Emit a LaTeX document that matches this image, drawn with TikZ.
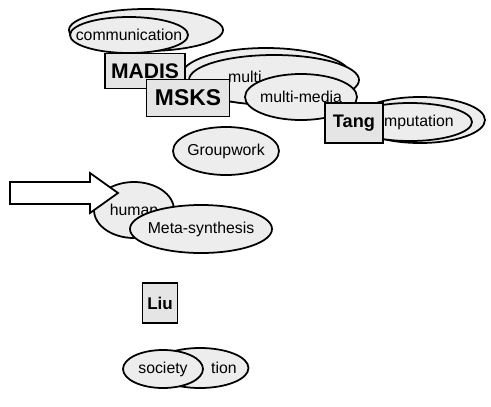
\documentclass[tikz,border=0pt]{standalone}
\usepackage{fontspec}
\setmainfont{Liberation Sans}
\usetikzlibrary{shapes.geometric}

\begin{document}
\begin{tikzpicture}[
    x=0.03cm, y=-0.03cm,
    % Estilos de nodos
    bubble/.style={ellipse, draw=black, line width=1.5pt, fill=black!7, inner sep=0pt},
    word/.style={font=\fontsize{13.5}{15}\selectfont},
    tag/.style={rectangle, draw=black, line width=1.2pt, fill=black!10, inner sep=0pt, font=\bfseries},
    pointer/.style={draw=black, line width=1.5pt, fill=white, line join=miter}
]
\useasboundingbox (0,0) rectangle (491,406);

% --- communication / MADIS ---
\node[bubble, minimum width=4.62cm, minimum height=1.26cm] (commback) at (146,30) {};
\node[bubble, minimum width=3.54cm, minimum height=1.08cm, label={[word]center:communication}] (comm) at (129,35) {};

% --- multi-functional ---
\node[bubble, minimum width=5.1cm, minimum height=1.68cm] (multiA) at (266,76) {};
\node[bubble, minimum width=5.1cm, minimum height=1.5cm] (multiB) at (274,80) {};
\node[word, anchor=west, inner sep=0pt] (multiword) at (228,77) {multi};

\node[tag, minimum width=2.4cm, minimum height=1.05cm, font=\fontsize{18}{20}\selectfont\bfseries] (madis) at (145,71) {MADIS};
\node[tag, minimum width=2.49cm, minimum height=1.1cm, font=\fontsize{19.5}{21}\selectfont\bfseries] (msks) at (188,98) {MSKS};

% --- multi-media ---
\node[bubble, minimum width=3.36cm, minimum height=1.38cm, label={[word]center:multi-media}] (media) at (301,97) {};

% --- computation / Tang ---
\node[bubble, minimum width=3.9cm, minimum height=1.38cm] (compback) at (420,120) {};
\node[bubble, minimum width=3.72cm, minimum height=1.14cm] (comp) at (410,122) {};
\node[word, anchor=west, inner sep=0pt] (compword) at (384,122) {mputation};
\node[tag, minimum width=1.74cm, minimum height=1.2cm, font=\fontsize{15.5}{17}\selectfont\bfseries] (tang) at (354,123) {Tang};

% --- Groupwork ---
\node[bubble, minimum width=3.18cm, minimum height=1.44cm, label={[word]center:Groupwork}] (group) at (226,151) {};

% --- human / Meta-synthesis ---
\node[bubble, minimum width=2.4cm, minimum height=1.68cm, label={[word]center:human}] (human) at (134,210) {};
\node[bubble, minimum width=4.26cm, minimum height=1.44cm, label={[word]center:Meta-synthesis}] (meta) at (201,229) {};

% --- flecha ---
\draw[pointer] (10,182) -- (90,182) -- (90,173) -- (118,193) -- (90,213) -- (90,204) -- (10,204) -- cycle;

% --- Liu ---
\node[tag, minimum width=1.05cm, minimum height=1.2cm, font=\fontsize{14.5}{16}\selectfont\bfseries] (liu) at (160,303) {Liu};

% --- society ---
\node[bubble, minimum width=2.91cm, minimum height=1.2cm] (coop) at (200,368) {};
\node[word, anchor=west, inner sep=0pt] (coopword) at (211,368) {tion};
\node[bubble, minimum width=2.4cm, minimum height=1.14cm, label={[word]center:society}] (society) at (163,369) {};

\end{tikzpicture}
\end{document}
